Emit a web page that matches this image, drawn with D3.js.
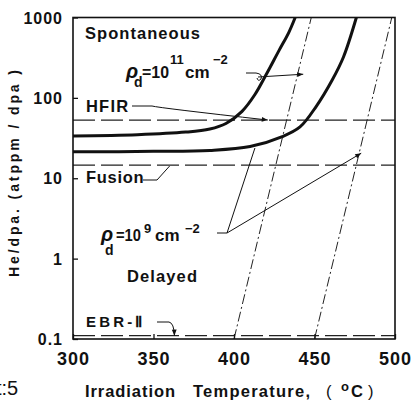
<!DOCTYPE html>
<html>
<head>
<meta charset="utf-8">
<script src="https://cdn.jsdelivr.net/npm/d3@7"></script>
<style>
  html, body { margin: 0; padding: 0; background: #fff; }
  svg { display: block; }
  text { font-family: "Liberation Sans", Arial, sans-serif; fill: #111; }
</style>
</head>
<body>
<svg id="chart" width="414" height="403"></svg>
<script>
// ---- data ----
const xTicks = [300, 350, 400, 450, 500];
const xTickLabels = ["300", "350", "400", "450", "500"];
const yTicks = [0.1, 1, 10, 100, 1000];
const yTickLabels = ["0.1", "1", "10", "100", "1000"];

// rho_d = 1e11 cm^-2 curve (upper solid)
const highTemp = [300, 340, 370, 385, 395, 405, 413, 420, 428, 434, 438];
const highVal  = [33.6, 34.8, 37.5, 41, 48, 68, 110, 195, 390, 650, 1000];
// rho_d = 1e9 cm^-2 curve (lower solid)
const lowTemp = [300, 350, 385, 410, 430, 441, 451, 461, 468, 476];
const lowVal  = [21.3, 21.6, 22.2, 24.8, 33, 43.5, 78, 167, 323, 1000];

// dash-dot boundaries
const bndHighTemp = [400, 448];
const bndHighVal  = [0.1, 1000];
const bndLowTemp  = [450, 498];
const bndLowVal   = [0.1, 1000];

// reactor He/dpa levels
const refNames  = ["HFIR", "Fusion", "EBR-Ⅱ"];
const refLevels = [53, 14.6, 0.11];

// ---- layout ----
const svg = d3.select("#chart");
const x = d3.scaleLinear().domain([300, 500]).range([73, 395]);
const y = d3.scaleLog().domain([0.1, 1000]).range([339, 17.5]);

const defs = svg.append("defs");
defs.append("marker").attr("id", "arr").attr("viewBox", "0 0 10 10")
  .attr("refX", 10).attr("refY", 5).attr("markerWidth", 7).attr("markerHeight", 6)
  .attr("markerUnits", "userSpaceOnUse").attr("orient", "auto")
  .append("path").attr("d", "M0,1 L10,5 L0,9 Z").attr("fill", "#111");

// reference dashed lines
svg.append("g").selectAll("line").data(refLevels).join("line")
  .attr("x1", x(300)).attr("x2", x(500))
  .attr("y1", d => y(d)).attr("y2", d => y(d))
  .attr("stroke", "#222").attr("stroke-width", 1.3)
  .attr("stroke-dasharray", "22,6");

// dash-dot boundaries
const lineGen = d3.line().x(d => x(d[0])).y(d => y(d[1]));
[[bndHighTemp, bndHighVal], [bndLowTemp, bndLowVal]].forEach(([t, v]) => {
  svg.append("path").datum(t.map((d, i) => [d, v[i]]))
    .attr("d", lineGen).attr("fill", "none")
    .attr("stroke", "#222").attr("stroke-width", 1)
    .attr("stroke-dasharray", "10,3,2,3");
});

// solid curves
const curveGen = d3.line().x(d => x(d[0])).y(d => y(d[1])).curve(d3.curveCatmullRom.alpha(0.5));
[[highTemp, highVal], [lowTemp, lowVal]].forEach(([t, v]) => {
  svg.append("path").datum(t.map((d, i) => [d, v[i]]))
    .attr("d", curveGen).attr("fill", "none")
    .attr("stroke", "#111").attr("stroke-width", 3);
});

// axes
const xAxis = d3.axisBottom(x).tickValues(xTicks).tickFormat((d, i) => xTickLabels[i])
  .tickSize(-5).tickSizeOuter(0).tickPadding(13);
const gx = svg.append("g").attr("transform", `translate(0,${y(0.1)})`).call(xAxis);
gx.select(".domain").remove();
gx.selectAll("line").attr("stroke", "#111").attr("stroke-width", 1.3);
gx.selectAll("text").attr("font-size", 18).attr("fill", "#111")
  .attr("font-weight", "bold").style("letter-spacing", "1px");

const yAxis = d3.axisLeft(y).tickValues(yTicks).tickFormat((d, i) => yTickLabels[i])
  .tickSize(-5).tickSizeOuter(0).tickPadding(10);
const gy = svg.append("g").attr("transform", `translate(${x(300)},0)`).call(yAxis);
gy.select(".domain").remove();
gy.selectAll("line").attr("stroke", "#111").attr("stroke-width", 1.3);
gy.selectAll("text").attr("font-size", 16).attr("fill", "#111")
  .attr("font-weight", "bold").attr("dy", "0.35em").style("letter-spacing", "1px");

// frame
svg.append("rect").attr("x", x(300)).attr("y", y(1000))
  .attr("width", x(500) - x(300)).attr("height", y(0.1) - y(1000))
  .attr("fill", "none").attr("stroke", "#111").attr("stroke-width", 1.6);

// region labels
svg.append("text").attr("x", 85).attr("y", 39).attr("font-size", 16.5)
  .attr("font-weight", "bold").attr("textLength", 115).text("Spontaneous");
svg.append("text").attr("x", 127).attr("y", 282).attr("font-size", 16.5)
  .attr("font-weight", "bold").attr("textLength", 70).text("Delayed");

// reference labels
const refLabelPos = [[86, 112, 16.5, "1.2px"], [86, 183, 16.5, "0.7px"], [86, 327, 15, "3.2px"]];
refNames.forEach((n, i) => {
  const p = refLabelPos[i];
  svg.append("text").attr("x", p[0]).attr("y", p[1]).attr("font-size", p[2])
    .attr("font-weight", "bold").style("letter-spacing", p[3]).text(n);
});

// leaders
const leader = (d, arrow) => {
  const p = svg.append("path").attr("d", d).attr("fill", "none")
    .attr("stroke", "#111").attr("stroke-width", 1);
  if (arrow) p.attr("marker-end", "url(#arr)");
};
leader(`M132,106 L152,106 Q160,108 ${x(421)},${y(53)}`, true);
leader(`M143,180 L157,180 L${x(360)},${y(14.6) + 1}`, false);
leader(`M157,322 L169,322 Q174,323 ${x(363)},${y(0.11)}`, true);
// rho 1e11 leader
leader("M246,73 L256,73 Q263,74 261,79 Q258,82 257,78", false);
leader(`M258,77 L${x(443)},${y(197)}`, true);
// rho 1e9 leaders
leader(`M217,233 L227,233 L${x(413)},${y(23.8)}`, false);
leader(`M227,233 L${x(479)},${y(20.5)}`, true);

// rho labels
function rhoLabel(p) {
  const t = svg.append("text").attr("font-weight", "bold");
  t.append("tspan").attr("x", p.rx).attr("y", p.base).attr("font-size", 20)
    .attr("font-style", "italic").text("ρ");
  t.append("tspan").attr("x", p.dx).attr("y", p.dy).attr("font-size", 14).text("d");
  t.append("tspan").attr("x", p.ex).attr("y", p.base).attr("font-size", 17)
    .attr("textLength", p.ew).attr("lengthAdjust", "spacingAndGlyphs").text("=10");
  t.append("tspan").attr("x", p.sx).attr("y", p.sup).attr("font-size", 13).text(p.exp);
  t.append("tspan").attr("x", p.cx).attr("y", p.base).attr("font-size", 17).text("cm");
  t.append("tspan").attr("x", p.mx).attr("y", p.sup).attr("font-size", 13).text("−2");
}
rhoLabel({ rx: 126, dx: 134, dy: 87, ex: 142, ew: 27, base: 78, sx: 170, sup: 64, exp: "11", cx: 185, mx: 213 });
rhoLabel({ rx: 101, dx: 105, dy: 255, ex: 116, ew: 25, base: 241, sx: 144, sup: 233, exp: "9", cx: 155, mx: 185 });

// axis titles
svg.append("text")
  .attr("transform", "translate(19,173.5) rotate(-90)")
  .attr("text-anchor", "middle").attr("font-size", 14).attr("font-weight", "bold")
  .attr("textLength", 207).attr("lengthAdjust", "spacing")
  .text("He/dpa.  (atppm / dpa )");

const xt = svg.append("text").attr("font-weight", "bold").attr("font-size", 16.5);
xt.append("tspan").attr("x", 85).attr("y", 397).attr("textLength", 90).text("Irradiation");
xt.append("tspan").attr("x", 193).attr("y", 397).attr("textLength", 117).text("Temperature,");
xt.append("tspan").attr("x", 326).attr("y", 397).attr("font-weight", "normal").text("(");
xt.append("tspan").attr("x", 341).attr("y", 391).attr("font-size", 13).text("o");
xt.append("tspan").attr("x", 351).attr("y", 397).text("C");
xt.append("tspan").attr("x", 368).attr("y", 397).attr("font-weight", "normal").text(")");

// stray figure-number fragment at bottom left
svg.append("text").attr("x", -4).attr("y", 395).attr("font-size", 20).text("t:5");
</script>
</body>
</html>
